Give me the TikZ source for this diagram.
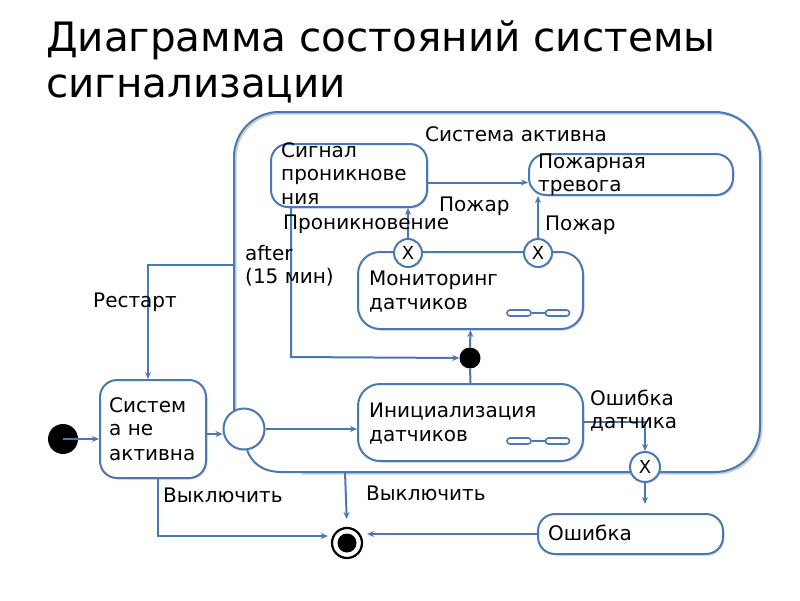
\documentclass[tikz,border=0pt]{standalone}
\usepackage{fontspec}
\setmainfont{DejaVu Sans}
\usetikzlibrary{arrows.meta,shadows,calc}
\definecolor{ln}{RGB}{74,120,180}
\begin{document}
\begin{tikzpicture}[x=1pt,y=-1pt,
  conn/.style={draw=ln,line width=2pt},
  arr/.style={conn,-{Stealth[length=7pt,width=6pt]}},
  sbox/.style={draw=ln,line width=2pt,fill=white,rounded corners=17pt,inner sep=0pt,
     drop shadow={shadow xshift=1.5pt,shadow yshift=-1.5pt,fill=black!30}},
  xcirc/.style={circle,draw=ln,line width=2pt,fill=white,inner sep=0pt,minimum size=28pt,
     font=\fontsize{18}{20}\selectfont,
     drop shadow={shadow xshift=1.2pt,shadow yshift=-1.2pt,fill=black!25}},
  lbl/.style={anchor=base west,inner sep=0pt,font=\fontsize{20}{24}\selectfont},
  ttl/.style={anchor=base west,inner sep=0pt,font=\fontsize{40.5}{46}\selectfont},
  mini/.style={draw=ln,line width=1.6pt,rounded corners=3pt,minimum width=24pt,minimum height=6pt,inner sep=0pt,fill=white}
]
\useasboundingbox (0,0) rectangle (800,600);
\fill[white] (0,0) rectangle (800,600);
% title
\node[ttl] (t1) at (46,51) {Диаграмма состояний системы};
\node[ttl] (t2) at (46,97) {сигнализации};
% outer composite state
\draw[draw=black!20,line width=2pt,rounded corners=45pt,xshift=1.5pt,yshift=-1.5pt]
  (234,412) -- (234,112) -- (760,112) -- (760,472) -- (300,472);
\draw[conn,rounded corners=45pt] (234,410) -- (234,112) -- (760,112) -- (760,472) -- (290,472);
\draw[conn] (292,472) -- (282,472) .. controls (262,472) and (252,463) .. (247,450);
\node[lbl] (sa) at (425,141) {Система активна};
% states
\node[sbox,minimum width=156pt,minimum height=63pt] (sig) at (349,175.5) {};
\node[lbl] (sig1) at (281,157) {Сигнал};
\node[lbl] (sig2) at (281,180) {проникнове};
\node[lbl] (sig3) at (281,204) {ния};
\node[sbox,minimum width=204pt,minimum height=41pt] (fire) at (631,174.5) {};
\node[lbl] (fire1) at (538,168) {Пожарная};
\node[lbl] (fire2) at (538,191) {тревога};
\node[sbox,rounded corners=22pt,minimum width=225pt,minimum height=77pt] (mon) at (470.5,290.5) {};
\node[lbl] (mon1) at (369,285) {Мониторинг};
\node[lbl] (mon2) at (369,309) {датчиков};
\node[mini] (m1) at (519,313) {};
\node[mini] (m2) at (557.5,313) {};
\draw[conn,line width=1.6pt] (m1) -- (m2);
\node[sbox,rounded corners=22pt,minimum width=225pt,minimum height=77pt] (ini) at (470.5,422.5) {};
\node[lbl] (ini1) at (369,417) {Инициализация};
\node[lbl] (ini2) at (369,441) {датчиков};
\node[mini] (i1) at (519,441) {};
\node[mini] (i2) at (557.5,441) {};
\draw[conn,line width=1.6pt] (i1) -- (i2);
\node[sbox,minimum width=106pt,minimum height=98pt] (ina) at (153,429) {};
\node[lbl] (ina1) at (109,412) {Систем};
\node[lbl] (ina2) at (109,435) {а не};
\node[lbl] (ina3) at (109,460) {активна};
\node[sbox,minimum width=185pt,minimum height=40pt] (err) at (630.5,534) {};
\node[lbl] (err1) at (548,540) {Ошибка};
% pseudo states
\node[xcirc] (x1) at (408,253) {X};
\node[xcirc] (x2) at (538,253) {X};
\node[xcirc,minimum size=30pt] (x3) at (645,467) {X};
\node[circle,fill=black,inner sep=0pt,minimum size=21pt] (dot) at (470,358) {};
\node[circle,fill=black,inner sep=0pt,minimum size=30pt] (init) at (63,439) {};
\node[circle,draw=ln,line width=2pt,fill=white,inner sep=0pt,minimum size=41pt,
  drop shadow={shadow xshift=1.2pt,shadow yshift=-1.2pt,fill=black!25}] (jn) at (244,429) {};
\node[circle,draw=black,line width=2.2pt,fill=white,inner sep=0pt,minimum size=30pt] (fin) at (347,543) {};
\node[circle,fill=black,inner sep=0pt,minimum size=19pt] (finc) at (fin) {};
% coordinates
\coordinate (c1) at (291,357);
\coordinate (a1) at (234,265);
\coordinate (a2) at (148,265);
\coordinate (e1) at (645,422);
\coordinate (o1) at (345,472);
\coordinate (b1) at (158,478);
\coordinate (b2) at (158,536);
% transitions
\draw[arr] (init.center) -- (init.center -| ina.west);
\draw[arr] ([yshift=-5pt]ina.east) -- ([yshift=-5pt]ina.east -| jn.west);
\draw[arr] (jn.east) -- (jn.east -| ini.west);
\draw[arr] (x1.north) -- (x1.north |- sig.south);
\draw[arr] (x2.north) -- (x2.north |- fire.south);
\draw[arr] ([yshift=-7pt]sig.east) -- ([yshift=-7pt]sig.east -| fire.west);
\draw[arr] (sig.south -| c1) -- (c1) -- (dot.west);
\draw[conn] (ini.north) -- (dot.south);
\draw[arr] (dot.north) -- (mon.south);
\draw[arr] (a1) -- (a2) -- (a2 |- ina.north);
\draw[arr] (ini.east |- e1) -- (e1) -- (x3.north);
\draw[arr,shorten >=9pt] (x3.south) -- (x3.south |- err.north);
\draw[arr,shorten >=4pt] (err.west |- 0,534) -- (err.west |- 0,534 -| fin.east);
\draw[arr,shorten >=8pt] (o1) -- (fin.north);
\draw[arr,shorten >=3pt] (b1) -- (b2) -- (b2 -| fin.west);
% transition labels
\node[lbl] (lp1) at (439,211) {Пожар};
\node[lbl] (lpr) at (283,229) {Проникновение};
\node[lbl] (lp2) at (545,230) {Пожар};
\node[lbl] (la1) at (245,260) {after};
\node[lbl] (la2) at (245,283) {(15 мин)};
\node[lbl] (lr) at (93,307) {Рестарт};
\node[lbl] (le1) at (590,405) {Ошибка};
\node[lbl] (le2) at (590,428) {датчика};
\node[lbl] (lv1) at (163,502) {Выключить};
\node[lbl] (lv2) at (366,500) {Выключить};
\end{tikzpicture}
\end{document}
